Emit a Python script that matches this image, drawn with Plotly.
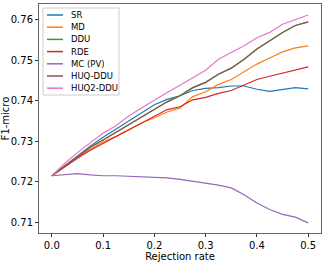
import plotly.graph_objects as go

rates = [0.0, 0.025, 0.05, 0.075, 0.1, 0.125, 0.15, 0.175, 0.2, 0.225, 0.25,
         0.275, 0.3, 0.325, 0.35, 0.375, 0.4, 0.425, 0.45, 0.475, 0.5]

sr = [0.7215, 0.7240, 0.7265, 0.7288, 0.7310, 0.7330, 0.7352, 0.7370, 0.7390, 0.7403, 0.7412,
      0.7425, 0.7430, 0.7432, 0.7436, 0.7436, 0.7428, 0.7423, 0.7428, 0.7432, 0.7429]
md = [0.7215, 0.7238, 0.7262, 0.7280, 0.7298, 0.7312, 0.7328, 0.7345, 0.7358, 0.7372, 0.7382,
      0.7410, 0.7422, 0.7440, 0.7452, 0.7472, 0.7490, 0.7505, 0.7520, 0.7530, 0.7535]
huq_ddu = [0.7215, 0.7238, 0.7262, 0.7285, 0.7303, 0.7322, 0.7340, 0.7360, 0.7377, 0.7397, 0.7412,
           0.7432, 0.7445, 0.7465, 0.7480, 0.7502, 0.7527, 0.7548, 0.7568, 0.7585, 0.7594]
ddu = list(huq_ddu)
rde = [0.7215, 0.7237, 0.7258, 0.7278, 0.7295, 0.7310, 0.7328, 0.7345, 0.7362, 0.7378, 0.7385,
       0.7402, 0.7408, 0.7418, 0.7425, 0.7438, 0.7452, 0.7460, 0.7468, 0.7475, 0.7483]
mc_pv = [0.7215, 0.7218, 0.7220, 0.7217, 0.7215, 0.7215, 0.7214, 0.7213, 0.7211, 0.7210, 0.7206,
         0.7201, 0.7197, 0.7192, 0.7185, 0.7168, 0.7148, 0.7132, 0.7120, 0.7113, 0.7099]
huq2_ddu = [0.7215, 0.7245, 0.7272, 0.7295, 0.7320, 0.7338, 0.7362, 0.7382, 0.7402, 0.7420, 0.7438,
            0.7457, 0.7475, 0.7502, 0.7518, 0.7535, 0.7555, 0.7568, 0.7588, 0.7600, 0.7611]

names = ["SR", "MD", "DDU", "RDE", "MC (PV)", "HUQ-DDU", "HUQ2-DDU"]
values = [sr, md, ddu, rde, mc_pv, huq_ddu, huq2_ddu]
colors = ["#1f77b4", "#ff7f0e", "#2ca02c", "#d62728", "#9467bd", "#8c564b", "#e377c2"]

y_ticks = [0.71, 0.72, 0.73, 0.74, 0.75, 0.76]
x_ticks = [0.0, 0.1, 0.2, 0.3, 0.4, 0.5]

W, H = 327, 262
ML, MR, MT, MB = 39, 6, 4, 29
PW, PH = W - ML - MR, H - MT - MB


def px_to_paper_x(px):
    return (px - ML) / PW


def px_to_paper_y(py):
    return (H - MB - py) / PH


fig = go.Figure()
for name, vals, color in zip(names, values, colors):
    fig.add_trace(go.Scatter(x=rates, y=vals, mode="lines", name=name,
                             line=dict(color=color, width=1.2)))

# custom compact legend (matplotlib-like)
shapes = [dict(type="rect", xref="paper", yref="paper",
               x0=px_to_paper_x(43), x1=px_to_paper_x(119),
               y0=px_to_paper_y(95), y1=px_to_paper_y(8),
               line=dict(color="#cccccc", width=1), fillcolor="rgba(255,255,255,0.8)",
               layer="above")]
annotations = []
for i, (name, color) in enumerate(zip(names, colors)):
    py = 15 + 12.2 * i
    shapes.append(dict(type="line", xref="paper", yref="paper",
                       x0=px_to_paper_x(47), x1=px_to_paper_x(63),
                       y0=px_to_paper_y(py), y1=px_to_paper_y(py),
                       line=dict(color=color, width=1.5), layer="above"))
    annotations.append(dict(text=name, xref="paper", yref="paper",
                            x=px_to_paper_x(69), y=px_to_paper_y(py),
                            xanchor="left", yanchor="middle", showarrow=False,
                            font=dict(size=8.5, color="black")))

axis_common = dict(showgrid=False, zeroline=False, showline=True, mirror=True,
                   linecolor="#666", linewidth=1, ticks="outside", ticklen=3,
                   tickcolor="#333", tickfont=dict(size=10, color="black"))

fig.update_layout(
    width=W, height=H,
    margin=dict(l=ML, r=MR, t=MT, b=MB),
    paper_bgcolor="white", plot_bgcolor="white",
    font=dict(family="DejaVu Sans", size=10, color="black"),
    xaxis=dict(range=[-0.025, 0.525], tickvals=x_ticks, tickformat=".1f",
               title=dict(text="Rejection rate", standoff=1, font=dict(size=10)),
               automargin=False, **axis_common),
    yaxis=dict(range=[0.7074, 0.7638], tickvals=y_ticks, tickformat=".2f",
               title=dict(text="F1-micro", standoff=2, font=dict(size=10)),
               automargin=False, **axis_common),
    shapes=shapes,
    annotations=annotations,
    showlegend=False,
)

fig.write_html("out.html", config={"displayModeBar": False},
               post_script="document.body.style.margin='0';")
